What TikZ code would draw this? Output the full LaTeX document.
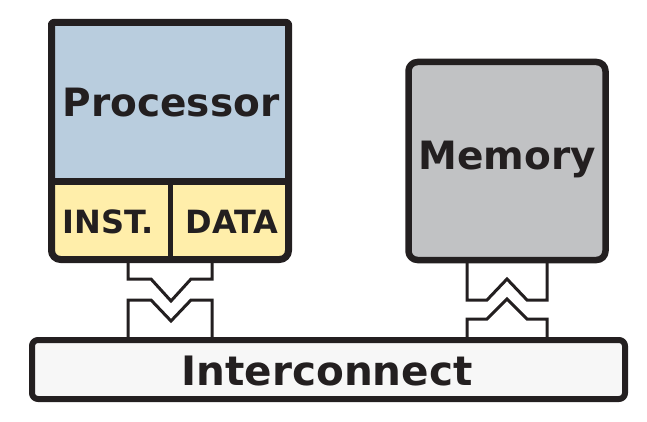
\documentclass[tikz,border=0pt]{standalone}
\usepackage{fontspec}
\setmainfont{DejaVu Sans}
\definecolor{procblue}{RGB}{185,205,222}
\definecolor{cacheyellow}{RGB}{255,238,170}
\definecolor{memgray}{RGB}{193,194,196}
\definecolor{icfill}{RGB}{247,247,247}
\definecolor{ink}{RGB}{35,31,32}
\tikzset{
  bigtext/.style={font=\fontsize{39}{39}\selectfont\bfseries, text=ink, inner sep=0pt, anchor=base},
  smalltext/.style={font=\fontsize{32}{32}\selectfont\bfseries, text=ink, inner sep=0pt, anchor=base},
  link/.style={draw=ink, line width=3pt, line join=miter},
  boxline/.style={draw=ink, line join=round}
}
\begin{document}
\begin{tikzpicture}[x=1pt,y=-1pt]
\useasboundingbox (0,0) rectangle (647,422);
% connectors
\draw[link] (128,262) -- (128,279) -- (151,279) -- (171,301) -- (191,279) -- (212,279) -- (212,262);
\draw[link] (128,339) -- (128,300) -- (151,300) -- (171,321) -- (191,300) -- (212,300) -- (212,339);
\draw[link] (467,262) -- (467,300) -- (487,300) -- (507,279) -- (527,300) -- (547,300) -- (547,262);
\draw[link] (467,339) -- (467,319) -- (487,319) -- (507,299) -- (527,319) -- (547,319) -- (547,339);
% processor
\fill[cacheyellow, rounded corners=9pt] (51.5,170) rectangle (288.5,259.5);
\fill[procblue] (51.5,22.5) rectangle (288.5,181);
\draw[boxline, line width=7pt] (170,22.5) [rounded corners=2pt] -- (288.5,22.5) [rounded corners=9pt] -- (288.5,259.5) -- (51.5,259.5) [rounded corners=2pt] -- (51.5,22.5) -- cycle;
\draw[ink, line width=7pt] (51.5,181) -- (288.5,181);
\draw[ink, line width=5pt] (170.5,181) -- (170.5,259.5);
\node[bigtext] (proc) at (171,117) {Processor};
\node[smalltext] (inst) at (108,233) {INST.};
\node[smalltext] (data) at (232,233) {DATA};
% memory
\draw[boxline, fill=memgray, line width=6.5pt, rounded corners=9pt] (408.5,62) rectangle (605.5,260);
\node[bigtext] (mem) at (507,169) {Memory};
% interconnect
\draw[boxline, fill=icfill, line width=6pt, rounded corners=6pt] (32,340) rectangle (625,399);
\node[bigtext, font=\fontsize{40.5}{40.5}\selectfont\bfseries] (ic) at (327,385) {Interconnect};
\end{tikzpicture}
\end{document}
